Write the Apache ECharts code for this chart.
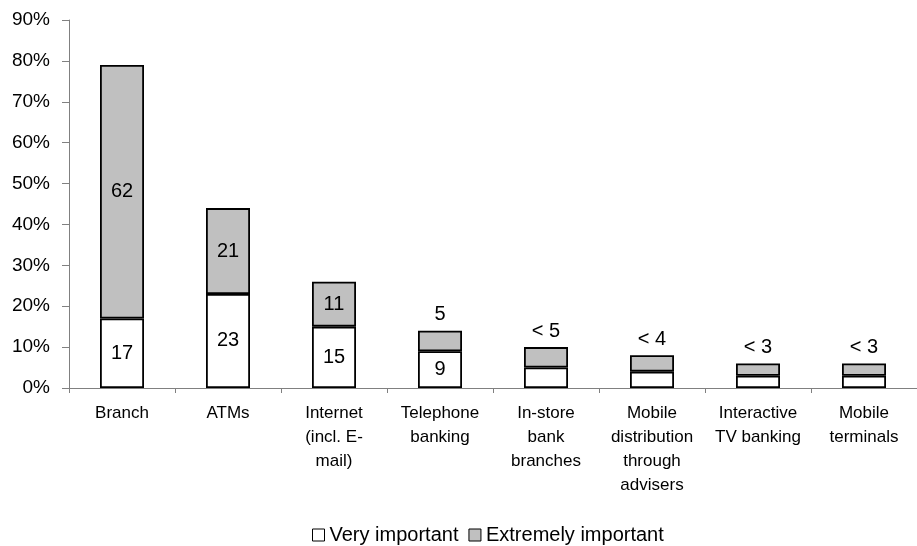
<!DOCTYPE html>
<html>
<head>
<meta charset="utf-8">
<script src="https://cdn.jsdelivr.net/npm/echarts@6/dist/echarts.min.js"></script>
<style>
  html, body { margin: 0; padding: 0; background: #fff; }
  #chart { width: 917px; height: 546px; }
</style>
</head>
<body>
<div id="chart"></div>
<script>
// Distribution channels rated by importance (share of respondents, %)
const categories = [
  'Branch',
  'ATMs',
  'Internet\n(incl. E-\nmail)',
  'Telephone\nbanking',
  'In-store\nbank\nbranches',
  'Mobile\ndistribution\nthrough\nadvisers',
  'Interactive\nTV banking',
  'Mobile\nterminals'
];
const veryImportant = [17, 23, 15, 9, 5, 4, 3, 3];
const extremelyImportant = [62, 21, 11, 5, 5, 4, 3, 3];
// Printed value labels; empty means no label on that segment
const veryImportantLabels = ['17', '23', '15', '9', '', '', '', ''];
const extremelyImportantLabels = ['62', '21', '11', '5', '< 5', '< 4', '< 3', '< 3'];
// Segments whose label sits above the bar instead of inside
const labelAbove = [false, false, false, true, true, true, true, true];
const yTicks = { min: 0, max: 90, interval: 10 };

const FONT = '"Liberation Sans", Arial, sans-serif';

const chart = echarts.init(document.getElementById('chart'), null, { renderer: 'canvas' });

const barStyle = (fill) => ({ color: fill, borderColor: '#000', borderWidth: 1.8 });

chart.setOption({
  animation: false,
  backgroundColor: '#fff',
  grid: { left: 69, top: 20, height: 368, right: -13, containLabel: false },
  legend: {
    left: 307,
    top: 520,
    itemWidth: 12,
    itemHeight: 12,
    itemGap: 10,
    icon: 'rect',
    textStyle: { fontFamily: FONT, fontSize: 20, color: '#000', lineHeight: 20 },
    data: [
      { name: 'Very important', itemStyle: { color: '#fff', borderColor: '#000', borderWidth: 1 } },
      { name: 'Extremely important', itemStyle: { color: '#c0c0c0', borderColor: '#000', borderWidth: 1 } }
    ]
  },
  xAxis: {
    type: 'category',
    data: categories,
    axisLine: { lineStyle: { color: '#808080', width: 1 } },
    axisTick: { show: true, length: 5, lineStyle: { color: '#808080' } },
    axisLabel: {
      interval: 0,
      margin: 13,
      fontFamily: FONT,
      fontSize: 17,
      lineHeight: 24,
      color: '#000',
      align: 'center'
    },
    splitLine: { show: false }
  },
  yAxis: {
    type: 'value',
    min: yTicks.min,
    max: yTicks.max,
    interval: yTicks.interval,
    axisLine: { show: true, lineStyle: { color: '#808080', width: 1 } },
    axisTick: { show: true, length: 7, lineStyle: { color: '#808080' } },
    axisLabel: {
      margin: 19,
      fontFamily: FONT,
      fontSize: 19,
      color: '#000',
      formatter: '{value}%'
    },
    splitLine: { show: false }
  },
  series: [
    {
      name: 'Very important',
      type: 'bar',
      stack: 'total',
      barWidth: 44,
      itemStyle: barStyle('#fff'),
      data: veryImportant.map((v, i) => ({
        value: v,
        label: {
          show: veryImportantLabels[i] !== '',
          position: 'inside',
          formatter: veryImportantLabels[i],
          fontFamily: FONT,
          fontSize: 20,
          color: '#000'
        }
      }))
    },
    {
      name: 'Extremely important',
      type: 'bar',
      stack: 'total',
      barWidth: 44,
      itemStyle: barStyle('#c0c0c0'),
      data: extremelyImportant.map((v, i) => ({
        value: v,
        label: {
          show: extremelyImportantLabels[i] !== '',
          position: labelAbove[i] ? 'top' : 'inside',
          distance: 6,
          formatter: extremelyImportantLabels[i],
          fontFamily: FONT,
          fontSize: 20,
          color: '#000'
        }
      }))
    }
  ]
});
</script>
</body>
</html>
